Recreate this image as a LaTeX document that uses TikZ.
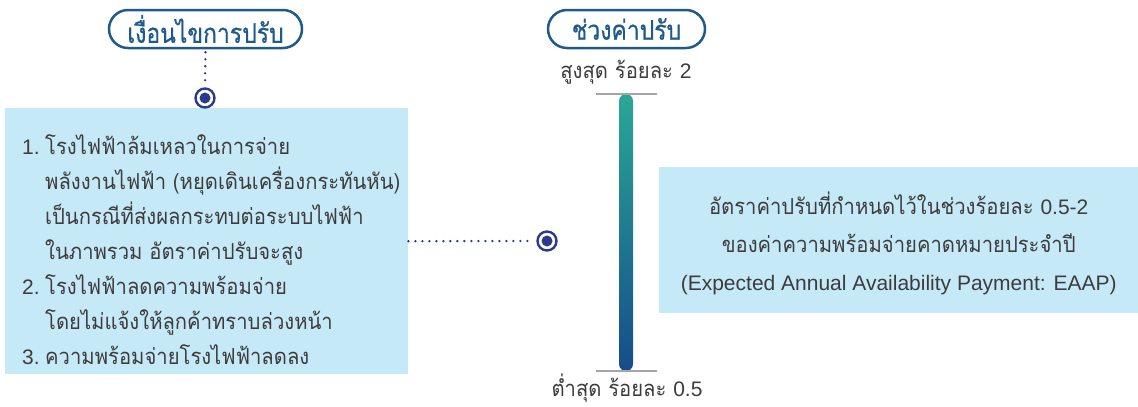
\documentclass[tikz,border=0pt]{standalone}
\usepackage{fontspec}
\setmainfont{Liberation Sans}
\newfontfamily\thaibody[Script=Thai,FakeStretch=0.92]{Loma}
\newfontfamily\thaicond[Script=Thai,FakeStretch=0.85,FakeBold=0.6]{Loma}
\newfontfamily\latfont{Liberation Sans}
\newcommand{\lat}[1]{{\latfont\fontsize{21}{35}\selectfont #1}}
\definecolor{pillblue}{RGB}{30,90,140}
\definecolor{dotblue}{RGB}{43,58,143}
\definecolor{boxblue}{RGB}{198,233,248}
\definecolor{textgray}{RGB}{60,60,60}
\definecolor{tickgray}{RGB}{165,165,165}
\definecolor{barteal}{RGB}{42,167,150}
\definecolor{barblue}{RGB}{22,76,138}
\begin{document}
\begin{tikzpicture}[x=1pt,y=-1pt]
\useasboundingbox (0,0) rectangle (1138,407);
\tikzset{
 pill/.style={draw=pillblue, line width=2.5pt, rounded corners=19pt, minimum height=38pt, text=pillblue, font=\fontsize{27}{30}\thaicond, inner sep=0pt},
 infobox/.style={fill=boxblue, draw=none, inner sep=0pt},
 dotline/.style={dotblue, line width=2.6pt, line cap=round, dash pattern=on 0pt off 7pt},
 ring/.style={circle, draw=dotblue, line width=2.4pt, fill=white, minimum size=19pt, inner sep=0pt},
 tick/.style={draw=tickgray, line width=1.5pt},
 body/.style={text=textgray, font=\fontsize{22}{35}\thaibody, inner sep=0pt},
 barshape/.style={top color=barteal, bottom color=barblue, draw=none, rounded corners=7pt, minimum width=14pt, minimum height=277pt, inner sep=0pt}
}
% pills
\node[pill, minimum width=193pt] (p1) at (205.5,29) {เงื่อนไขการปรับ};
\node[pill, minimum width=157pt] (p2) at (626.5,29) {ช่วงค่าปรับ};
% left box
\node[infobox, minimum width=403pt, minimum height=266pt, anchor=north west] (lb) at (5,108) {};
\node[body, anchor=north west, align=left] (lt) at (22,134) {%
\makebox[23pt][l]{\lat{1.}}โรงไฟฟ้าล้มเหลวในการจ่าย\\
\hspace*{23pt}พลังงานไฟฟ้า (หยุดเดินเครื่องกระทันหัน)\\
\hspace*{23pt}เป็นกรณีที่ส่งผลกระทบต่อระบบไฟฟ้า\\
\hspace*{23pt}ในภาพรวม อัตราค่าปรับจะสูง\\
\makebox[23pt][l]{\lat{2.}}โรงไฟฟ้าลดความพร้อมจ่าย\\
\hspace*{23pt}โดยไม่แจ้งให้ลูกค้าทราบล่วงหน้า\\
\makebox[23pt][l]{\lat{3.}}ความพร้อมจ่ายโรงไฟฟ้าลดลง};
% circles
\node[ring] (c1) at (205,98) {};
\fill[dotblue] (c1.center) circle (5.5pt);
\node[ring] (c2) at (547,241) {};
\fill[dotblue] (c2.center) circle (5.5pt);
\draw[dotline] ([yshift=-3pt]p1.south) -- ([yshift=2pt]c1.north);
\draw[dotline] (lb.east) -- ([xshift=-3pt]c2.west);
% bar
\node[barshape] (bar) at (626,232.5) {};
\draw[tick] ([xshift=-30pt]bar.north) -- ([xshift=31pt]bar.north);
\draw[tick] ([xshift=-30pt]bar.south) -- ([xshift=31pt]bar.south);
\node[body] (hi) at (626,72) {สูงสุด ร้อยละ \lat{2}};
\node[body] (lo) at (627,388) {ต่ำสุด ร้อยละ \lat{0.5}};
% right box
\node[infobox, minimum width=479pt, minimum height=146pt, anchor=north west] (rb) at (659,167) {};
\node[body, align=center, font=\fontsize{22}{38}\thaibody] (rt) at ([yshift=-3pt]rb.center) {%
อัตราค่าปรับที่กำหนดไว้ในช่วงร้อยละ \lat{0.5-2}\\
ของค่าความพร้อมจ่ายคาดหมายประจำปี\\
\lat{(Expected Annual Availability Payment: EAAP)}};
\end{tikzpicture}
\end{document}
